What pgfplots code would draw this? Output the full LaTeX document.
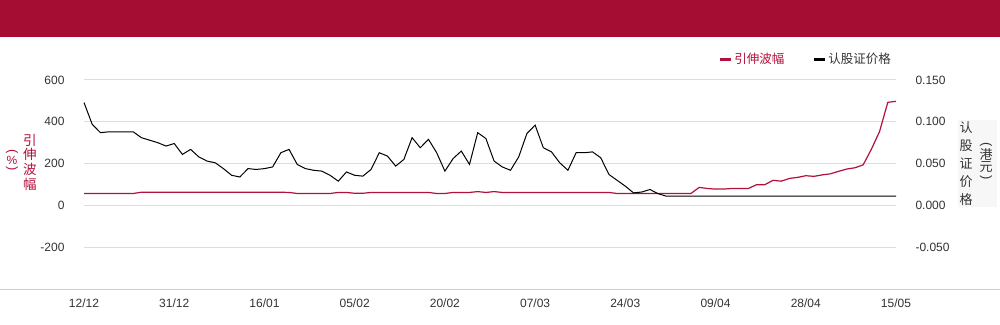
\documentclass[border=0pt]{standalone}
\usepackage{pgfplots}
\pgfplotsset{compat=1.18}
\usepackage{pgfplotstable}
\usepackage{fontspec}
\setmainfont{Liberation Sans}
\newfontfamily\cjk{Noto Sans CJK SC}
\definecolor{band}{RGB}{165,13,51}
\definecolor{volred}{RGB}{178,17,60}
\definecolor{txt}{RGB}{51,51,51}
\definecolor{gridc}{RGB}{221,221,221}
\definecolor{basec}{RGB}{204,204,204}

\pgfplotstableread{
x vol price
0 57 0.123
1 57 0.097
2 57 0.087
3 57 0.088
4 57 0.088
5 57 0.088
6 57 0.088
7 63 0.081
8 63 0.078
9 63 0.075
10 63 0.071
11 63 0.074
12 63 0.061
13 63 0.067
14 63 0.058
15 63 0.053
16 63 0.051
17 63 0.044
18 63 0.036
19 63 0.034
20 63 0.044
21 63 0.043
22 63 0.044
23 63 0.046
24 63 0.063
25 62 0.067
26 57 0.049
27 57 0.044
28 57 0.042
29 57 0.041
30 57 0.036
31 62 0.029
32 62 0.040
33 58 0.036
34 58 0.035
35 62 0.043
36 62 0.063
37 62 0.059
38 62 0.047
39 62 0.055
40 62 0.081
41 62 0.069
42 62 0.079
43 57 0.063
44 57 0.041
45 62 0.056
46 62 0.065
47 62 0.049
48 66 0.087
49 62 0.080
50 66 0.053
51 62 0.046
52 62 0.042
53 62 0.058
54 62 0.086
55 62 0.096
56 62 0.069
57 62 0.064
58 62 0.051
59 62 0.042
60 62 0.063
61 62 0.063
62 62 0.064
63 62 0.057
64 62 0.037
65 57 0.030
66 57 0.023
67 57 0.015
68 57 0.016
69 57 0.019
70 57 0.014
71 57 0.011
72 57 0.011
73 57 0.011
74 57 0.011
75 86 0.011
76 81 0.011
77 78 0.011
78 78 0.011
79 81 0.011
80 81 0.011
81 81 0.011
82 99 0.011
83 99 0.011
84 120 0.011
85 116 0.011
86 129 0.011
87 134 0.011
88 142 0.011
89 139 0.011
90 146 0.011
91 151 0.011
92 163 0.011
93 174 0.011
94 180 0.011
95 194 0.011
96 269 0.011
97 354 0.011
98 493 0.011
99 498 0.011
}\data

\begin{document}
\begin{tikzpicture}[x=1pt,y=1pt]
\useasboundingbox (0,0) rectangle (1000,324);
\fill[white] (0,0) rectangle (1000,324);
\fill[band] (0,287) rectangle (1000,324);
\draw[basec, line width=1pt] (0,35) -- (1000,35);
\fill[gray!6] (958,117) rectangle (997,204);
\begin{axis}[
  at={(84pt,35pt)}, anchor=south west, scale only axis,
  width=812pt, height=209pt,
  xmin=0, xmax=99, ymin=-400, ymax=600,
  axis line style={draw=none}, tick style={draw=none},
  xtick={0,11,22,33,44,55,66,77,88,99},
  xticklabels={12/12,31/12,16/01,05/02,20/02,07/03,24/03,09/04,28/04,15/05},
  ytick={-200,0,200,400,600},
  ymajorgrids, grid style={gridc, line width=1pt},
  tick label style={font=\fontsize{12}{14}\selectfont, text=txt},
  /pgf/number format/assume math mode=true,
  yticklabel style={xshift=-16pt},
  xticklabel style={yshift=-6pt},
  clip=false,
]
\addplot[volred, line width=1.2pt] table[x=x,y=vol]{\data};
\end{axis}
\begin{axis}[
  at={(84pt,35pt)}, anchor=south west, scale only axis,
  width=812pt, height=209pt,
  xmin=0, xmax=99, ymin=-0.1, ymax=0.15,
  axis y line*=right, axis x line=none,
  axis line style={draw=none}, tick style={draw=none},
  xtick=\empty,
  ytick={-0.05,0,0.05,0.1,0.15},
  tick label style={font=\fontsize{12}{14}\selectfont, text=txt},
  /pgf/number format/assume math mode=true,
  yticklabel style={xshift=16pt, /pgf/number format/.cd, fixed, fixed zerofill, precision=3},
  clip=false,
  legend columns=2,
  legend style={draw=none, fill=none, at={(1,1.1)}, anchor=east,
    font=\cjk\fontsize{12.5}{14}\selectfont,
    /tikz/every even column/.append style={column sep=26pt}},
  legend image code/.code={\draw[#1, line width=3pt] (0pt,0pt) -- (11pt,0pt);},
]
\addlegendimage{volred}
\addlegendentry{\textcolor{volred}{引伸波幅}}
\addplot[black, line width=1pt] table[x=x,y=price]{\data};
\addlegendentry{\textcolor{txt}{认股证价格}}
\end{axis}
% left axis title (vertical)
\node[text=volred, font=\cjk\fontsize{13.5}{14.7}\selectfont, align=center] at (30,162) {引\\伸\\波\\幅};
\node[text=volred, font=\fontsize{13}{14}\selectfont, rotate=-90, inner sep=0pt] at (12,172.5) {(};
\node[text=volred, font=\fontsize{12}{14}\selectfont, inner sep=0pt] at (12,164) {\%};
\node[text=volred, font=\fontsize{13}{14}\selectfont, rotate=-90, inner sep=0pt] at (12,155.5) {)};
% right axis title (vertical)
\node[text=txt, font=\cjk\fontsize{13}{18}\selectfont, align=center] at (966,160) {认\\股\\证\\价\\格};
\node[text=txt, font=\fontsize{13}{14}\selectfont, rotate=-90, inner sep=0pt] at (986,179.5) {(};
\node[text=txt, font=\cjk\fontsize{13}{14}\selectfont, inner sep=0pt] at (986,169.5) {港};
\node[text=txt, font=\cjk\fontsize{13}{14}\selectfont, inner sep=0pt] at (986,156.5) {元};
\node[text=txt, font=\fontsize{13}{14}\selectfont, rotate=-90, inner sep=0pt] at (986,146.5) {)};
\end{tikzpicture}
\end{document}
